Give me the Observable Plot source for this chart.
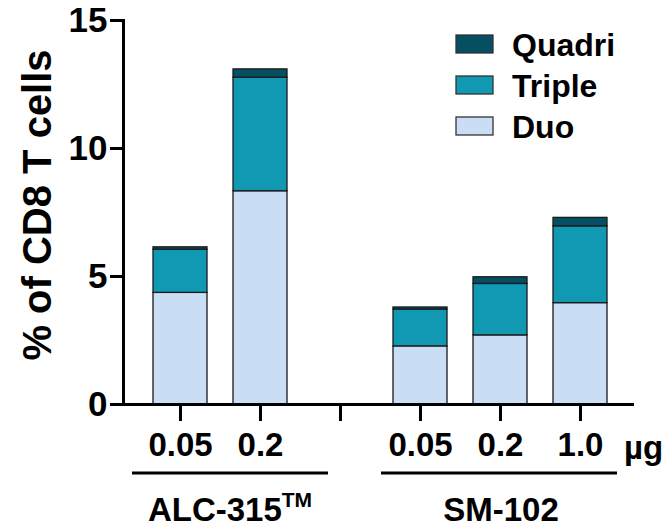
<!DOCTYPE html>
<html><head><meta charset="utf-8">
<script src="https://cdn.jsdelivr.net/npm/d3@7"></script>
<script src="https://cdn.jsdelivr.net/npm/@observablehq/plot@0.6"></script>
<style>body{margin:0;background:#fff} svg{display:block}</style>
</head><body><div id="chart"></div>
<script>
const categories = ["ALC-315 0.05", "ALC-315 0.2", "gap", "SM-102 0.05", "SM-102 0.2", "SM-102 1.0"];
const tickLabels = ["0.05", "0.2", "", "0.05", "0.2", "1.0"];
const duo    = [4.36, 8.33, null, 2.27, 2.70, 3.96];
const triple = [1.69, 4.44, null, 1.44, 2.01, 3.00];
const quadri = [0.09, 0.32, null, 0.08, 0.26, 0.33];
const seriesNames = ["Duo", "Triple", "Quadri"];
const seriesColors = ["#c9ddf5", "#1199b4", "#064f63"];
const yTicks = [0, 5, 10, 15];
const groups = ["ALC-315", "SM-102"];

const rows = [];
categories.forEach((c, i) => {
  if (duo[i] == null) return;
  rows.push({cat: c, series: "Duo", value: duo[i]});
  rows.push({cat: c, series: "Triple", value: triple[i]});
  rows.push({cat: c, series: "Quadri", value: quadri[i]});
});

const FONT = "'Liberation Sans', Arial, Helvetica, sans-serif";
const plot = Plot.plot({
  width: 664, height: 527,
  marginLeft: 123, marginRight: 30, marginTop: 20, marginBottom: 123,
  style: {fontFamily: FONT, fontSize: "32px", fontWeight: "bold", color: "#000", background: "#fff", overflow: "visible"},
  x: {domain: categories, range: [139, 620], paddingInner: 0.325, paddingOuter: 0.1625, label: null},
  y: {domain: [0, 15], label: null},
  color: {domain: seriesNames, range: seriesColors},
  marks: [
    Plot.barY(rows, {x: "cat", y: "value", fill: "series", stroke: "#1a1a1a", strokeWidth: 1.3}),
    Plot.axisX({tickSize: 17, strokeWidth: 3, tickPadding: 11, fontSize: 33, fontWeight: "bold",
      tickFormat: d => tickLabels[categories.indexOf(d)], label: null}),
    Plot.axisY({ticks: yTicks, tickSize: 13, strokeWidth: 3, tickPadding: 3, fontSize: 35, fontWeight: "bold", label: null}),
    Plot.ruleY([0], {strokeWidth: 3}),
    Plot.frame({anchor: "left", strokeWidth: 3})
  ]
});
document.getElementById("chart").appendChild(plot);

const svg = d3.select(plot);
const xs = plot.scale("x");
const bw = xs.bandwidth;
const g = svg.append("g").attr("font-family", FONT).attr("font-weight", "bold")
  .attr("fill", "#000").attr("text-anchor", "start");

// y title
g.append("text").attr("transform", "translate(37,205) rotate(-90)")
  .attr("text-anchor", "middle").attr("dominant-baseline", "central")
  .attr("font-size", 40).text("% of CD8 T cells");

// group underlines and labels
const groupSpans = [
  {name: groups[0], x1: xs.apply(categories[0]) - 21, x2: xs.apply(categories[1]) + bw + 41},
  {name: groups[1], x1: xs.apply(categories[3]) - 12, x2: xs.apply(categories[5]) + bw + 10}
];
groupSpans.forEach((s, i) => {
  g.append("line").attr("x1", s.x1).attr("x2", s.x2).attr("y1", 473).attr("y2", 473)
    .attr("stroke", "#000").attr("stroke-width", 3);
  const t = g.append("text").attr("x", (s.x1 + s.x2) / 2 + (i === 0 ? 0 : 2)).attr("y", 521)
    .attr("text-anchor", "middle").attr("font-size", 33).text(s.name);
  if (i === 0) t.append("tspan").attr("font-size", 21).attr("dy", -14).text("TM");
});

// unit
g.append("text").attr("x", 624).attr("y", 459).attr("font-size", 33).text("µg");

// legend
const legend = [...seriesNames].reverse();
const legendColors = [...seriesColors].reverse();
legend.forEach((name, i) => {
  const y0 = 35 + i * 41;
  g.append("rect").attr("x", 456).attr("y", y0).attr("width", 37).attr("height", 18)
    .attr("fill", legendColors[i]).attr("stroke", "#333").attr("stroke-width", 1.3);
  g.append("text").attr("x", 512).attr("y", y0 + 10).attr("dominant-baseline", "central")
    .attr("font-size", 32).text(name);
});
</script>
</body></html>
